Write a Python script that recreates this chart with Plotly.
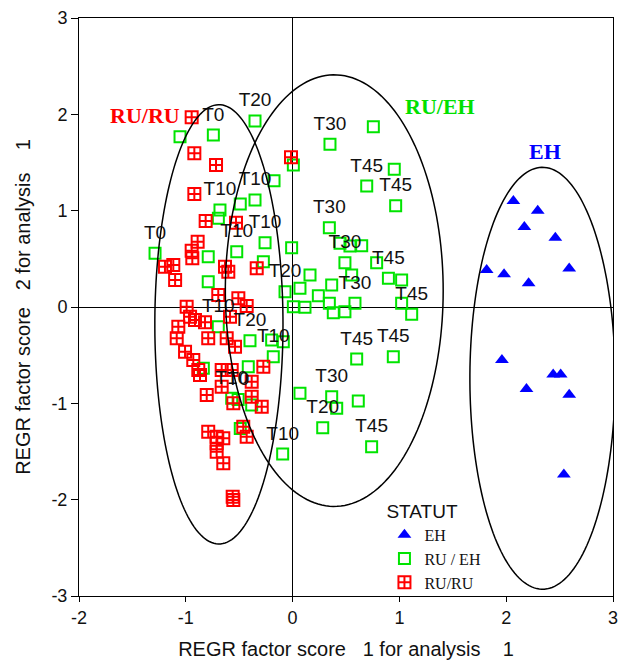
import numpy as np
import plotly.graph_objects as go

# ---- group EH (blue triangles) ----
eh_x = [2.067, 2.295, 2.17, 2.46, 1.817, 1.98, 2.59, 2.21, 1.96, 2.44, 2.51, 2.19, 2.59, 2.54]
eh_y = [1.10, 1.00, 0.83, 0.72, 0.384, 0.34, 0.40, 0.246, -0.55, -0.70, -0.70, -0.85, -0.91, -1.74]

# ---- group RU / EH (green squares), with time labels ----
ru_eh_x = [-1.054, -0.742, -0.352, 0.756, 0.350, 0.007, 0.952, 0.694, -0.174, -0.352,
           -0.490, -0.680, -0.695, 0.965, 0.344, -0.258, -0.009, -0.523, -1.288, -0.790,
           -0.274, 0.444, 0.537, 0.647, 0.490, 0.787, 0.163, 0.553, 0.897, 1.021,
           -0.071, 0.069, 0.241, 0.366, 0.007, 0.116, 0.344, 0.584, 0.381, 0.490,
           1.021, 1.115, -0.790, -0.696, -0.399, -0.196, -0.087, -0.181, -0.415, -0.836,
           0.600, 0.943, 0.069, 0.366, 0.413, 0.615, -0.570, -0.510, -0.383, -0.490,
           0.282, 0.740, -0.093]
ru_eh_y = [1.768, 1.785, 1.931, 1.872, 1.689, 1.474, 1.430, 1.256, 1.311, 1.111,
           1.069, 1.007, 0.920, 1.052, 0.823, 0.667, 0.616, 0.574, 0.557, 0.522,
           0.470, 0.661, 0.633, 0.636, 0.460, 0.460, 0.332, 0.332, 0.298, 0.280,
           0.159, 0.194, 0.117, 0.228, 0.003, -0.003, 0.038, 0.038, -0.059, -0.049,
           0.038, -0.076, 0.263, -0.204, -0.350, -0.343, -0.360, -0.516, -0.620, -0.636,
           -0.540, -0.516, -0.896, -0.931, -1.052, -0.976, -0.948, -0.960, -1.017, -1.260,
           -1.253, -1.450, -1.526]
ru_eh_lab = ["", "T0", "T20", "", "T30", "", "", "T45", "", "T10",
             "", "T10", "", "T45", "T30", "T10", "", "T10", "T0", "",
             "", "", "", "", "T30", "", "", "", "T45", "",
             "T20", "", "", "", "", "", "", "T30", "", "",
             "", "T45", "", "T10", "T20", "", "", "T10", "", "",
             "T45", "T45", "", "T30", "", "", "T10", "T0", "", "",
             "T20", "T45", "T10"]

# ---- group RU/RU (red crossed squares) ----
ru_ru_x = [-0.945, -0.920, -0.717, -0.920, -0.814, -0.530, -0.015, -0.889, -0.945, -0.939,
           -1.117, -1.195, -1.100, -0.633, -0.602, -0.336, -0.696, -0.508, -0.430, -0.992,
           -0.960, -0.914, -0.820, -1.070, -0.586, -1.085, -0.790, -0.617, -0.539, -1.007,
           -0.930, -0.883, -0.867, -0.664, -0.570, -0.664, -0.804, -0.555, -0.383, -0.383,
           -0.289, -0.274, -0.790, -0.711, -0.649, -0.711, -0.711, -0.649, -0.561, -0.555,
           -0.462, -0.430]
ru_ru_y = [1.970, 1.595, 1.474, 1.173, 0.893, 0.875, 1.554, 0.678, 0.585, 0.505,
           0.436, 0.418, 0.280, 0.418, 0.366, 0.402, 0.125, 0.090, 0.010, 0.003,
           -0.100, -0.135, -0.159, -0.205, -0.100, -0.325, -0.325, -0.325, -0.412, -0.464,
           -0.550, -0.654, -0.706, -0.654, -0.654, -0.827, -0.914, -1.000, -0.775, -0.931,
           -1.035, -0.620, -1.295, -1.346, -1.363, -1.415, -1.502, -1.623, -1.970, -2.003,
           -1.243, -1.346]

legend_names = ["EH", "RU / EH", "RU/RU"]

x_ticks = [-2, -1, 0, 1, 2, 3]
y_ticks = [-3, -2, -1, 0, 1, 2, 3]

# grouping ellipses: centre x, centre y, half-width, half-height
ellipses = [(-0.69, -0.18, 0.60, 2.28),
            (0.39, 0.17, 1.02, 2.24),
            (2.34, -0.74, 0.68, 2.19)]

group_titles = [("RU/RU", -1.38, 1.99, "#ff0000"),
                ("RU/EH", 1.38, 2.08, "#00e000"),
                ("EH", 2.36, 1.61, "#0000ff")]

SANS = "Liberation Sans, Arial, sans-serif"
SERIF = "Liberation Serif, Times New Roman, serif"
GREEN = "#00e400"
RED = "#ff0000"
BLUE = "#0000ff"
INK = "#111111"


def ellipse_path(cx, cy, rx, ry, n=180):
    t = np.linspace(0, 2 * np.pi, n)
    xs = cx + rx * np.cos(t)
    ys = cy + ry * np.sin(t)
    pts = [f"{x:.4f},{y:.4f}" for x, y in zip(xs, ys)]
    return "M " + " L ".join(pts) + " Z"


fig = go.Figure()

fig.add_trace(go.Scatter(
    x=eh_x, y=eh_y, mode="markers", name=legend_names[0],
    marker=dict(symbol="triangle-up", size=12, color=BLUE)))

fig.add_trace(go.Scatter(
    x=ru_eh_x, y=ru_eh_y, mode="markers", name=legend_names[1],
    marker=dict(symbol="square-open", size=11, color=GREEN, line=dict(width=2, color=GREEN))))

fig.add_trace(go.Scatter(
    x=ru_ru_x, y=ru_ru_y, mode="markers", name=legend_names[2],
    marker=dict(symbol="square-cross-open", size=12, color=RED, line=dict(width=2, color=RED))))

# time labels for the RU / EH cases, drawn on top of all markers
lab_idx = [i for i, t in enumerate(ru_eh_lab) if t]
fig.add_trace(go.Scatter(
    x=[ru_eh_x[i] for i in lab_idx], y=[ru_eh_y[i] for i in lab_idx],
    text=[ru_eh_lab[i] for i in lab_idx], mode="markers+text", textposition="top center",
    marker=dict(size=14, opacity=0),
    textfont=dict(family=SANS, size=19, color=INK),
    showlegend=False, hoverinfo="skip"))

for (cx, cy, rx, ry) in ellipses:
    fig.add_shape(type="path", xref="x", yref="y", path=ellipse_path(cx, cy, rx, ry),
                  line=dict(color="black", width=1.5), layer="above")

for (txt, tx, ty, col) in group_titles:
    fig.add_annotation(x=tx, y=ty, xref="x", yref="y", text=f"<b>{txt}</b>",
                       showarrow=False, font=dict(family=SERIF, size=22, color=col))

fig.update_layout(
    width=620, height=661,
    margin=dict(l=79, r=7, t=18, b=65),
    plot_bgcolor="white", paper_bgcolor="white",
    showlegend=True,
    legend=dict(x=0.572, y=0.178, xanchor="left", yanchor="top",
                bgcolor="rgba(0,0,0,0)",
                title=dict(text="STATUT", font=dict(family=SANS, size=19, color=INK)),
                font=dict(family=SERIF, size=16, color=INK),
                itemwidth=30, tracegroupgap=0),
)

axis_common = dict(showgrid=False, showline=True, linecolor="black", linewidth=1, mirror=True,
                   zeroline=True, zerolinecolor="black", zerolinewidth=1,
                   ticks="outside", tickcolor="black", automargin=False,
                   tickfont=dict(family=SANS, size=18, color=INK))

fig.update_xaxes(range=[-2, 3], tickvals=x_ticks, ticktext=[str(v) for v in x_ticks],
                 ticklen=5, **axis_common,
                 title=dict(text="REGR factor score\u00a0\u00a0\u00a01 for analysis\u00a0\u00a0\u00a0\u00a01",
                            font=dict(family=SANS, size=20, color=INK)))
fig.update_yaxes(range=[-3, 3], tickvals=y_ticks, ticktext=[str(v) for v in y_ticks],
                 ticklen=7, **axis_common,
                 title=dict(text="REGR factor score\u00a0\u00a0\u00a02 for analysis\u00a0\u00a0\u00a0\u00a01",
                            font=dict(family=SANS, size=20, color=INK)))

fig.write_html("out.html")
